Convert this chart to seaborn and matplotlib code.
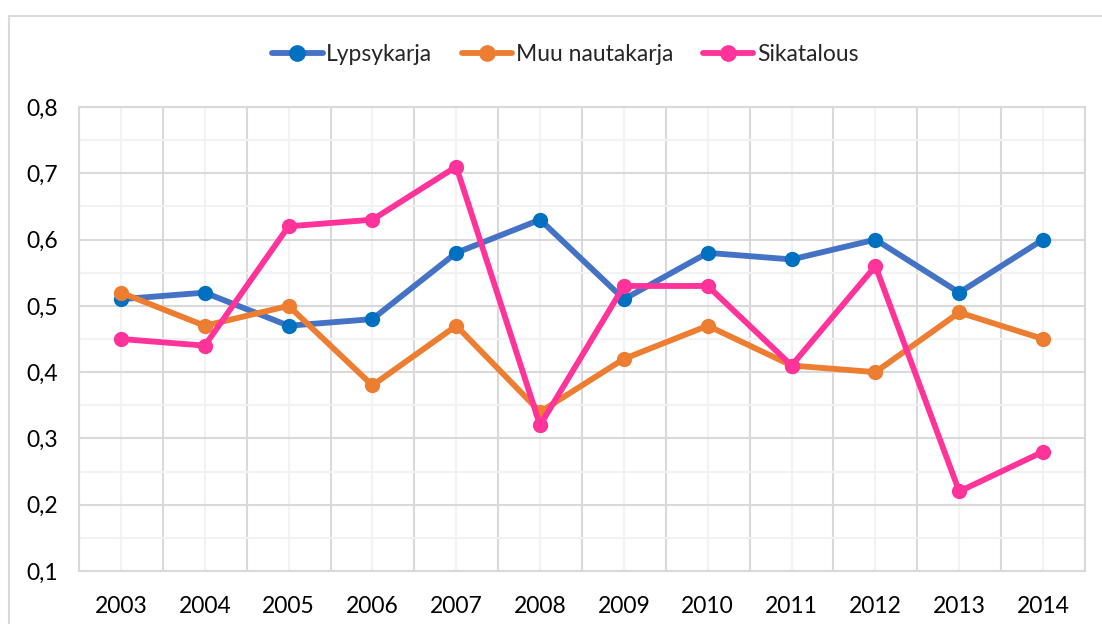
import seaborn as sns
import matplotlib.pyplot as plt
import matplotlib.ticker as mticker
import pandas as pd

# values
years = ['2003', '2004', '2005', '2006', '2007', '2008',
         '2009', '2010', '2011', '2012', '2013', '2014']
lypsykarja = [0.51, 0.52, 0.47, 0.48, 0.58, 0.63, 0.51, 0.58, 0.57, 0.60, 0.52, 0.60]
muu_nautakarja = [0.52, 0.47, 0.50, 0.38, 0.47, 0.34, 0.42, 0.47, 0.41, 0.40, 0.49, 0.45]
sikatalous = [0.45, 0.44, 0.62, 0.63, 0.71, 0.32, 0.53, 0.53, 0.41, 0.56, 0.22, 0.28]

series = ['Lypsykarja', 'Muu nautakarja', 'Sikatalous']
line_colors = ['#4472C4', '#ED7D31', '#FF3399']
marker_colors = ['#0070C0', '#ED7D31', '#FF3399']

rows = []
for name, vals in zip(series, [lypsykarja, muu_nautakarja, sikatalous]):
    for i, v in enumerate(vals):
        rows.append({'idx': i, 'value': v, 'series': name})
df = pd.DataFrame(rows)

sns.set_style('white')
plt.rcParams['font.family'] = ['Lato', 'DejaVu Sans']

fig = plt.figure(figsize=(11.02, 6.24), dpi=100)
ax = fig.add_axes([79 / 1102, 53 / 624, (1085 - 79) / 1102, (571 - 107) / 624])

sns.lineplot(data=df, x='idx', y='value', hue='series', hue_order=series,
             palette=line_colors, marker='o', markersize=11, linewidth=4.2,
             markeredgewidth=0, ax=ax, legend=False, zorder=3)

for line, mc in zip(ax.get_lines(), marker_colors):
    line.set_markerfacecolor(mc)
    line.set_markeredgecolor(mc)
    line.set_solid_capstyle('round')
    line.set_solid_joinstyle('round')

ax.set_xlim(-0.5, len(years) - 0.5)
ax.set_ylim(0.1, 0.8)
ax.set_xticks(range(len(years)))
ax.set_xticklabels(years)
ax.xaxis.set_minor_locator(mticker.FixedLocator([i - 0.5 for i in range(len(years) + 1)]))
ax.yaxis.set_major_locator(mticker.MultipleLocator(0.1))
ax.yaxis.set_minor_locator(mticker.MultipleLocator(0.05))
ax.yaxis.set_major_formatter(mticker.FuncFormatter(lambda v, p: f'{v:.1f}'.replace('.', ',')))

ax.grid(which='major', axis='y', color='#D9D9D9', linewidth=1.5)
ax.grid(which='minor', axis='y', color='#F2F2F2', linewidth=1.5)
ax.grid(which='minor', axis='x', color='#D9D9D9', linewidth=1.5)
ax.grid(which='major', axis='x', color='#F2F2F2', linewidth=1.5)
ax.set_axisbelow(True)

ax.tick_params(which='both', length=0, labelsize=16.5, colors='black')
ax.tick_params(axis='x', pad=18)
ax.tick_params(axis='y', pad=15)
ax.set_xlabel('')
ax.set_ylabel('')
for side in ['top', 'right', 'left', 'bottom']:
    ax.spines[side].set_visible(True)
    ax.spines[side].set_color('#D9D9D9')
    ax.spines[side].set_linewidth(1.5)

handles = [plt.Line2D([], [], color=lc, linewidth=4.2, marker='o', markersize=11,
                      markerfacecolor=mc, markeredgecolor=mc)
           for lc, mc in zip(line_colors, marker_colors)]
fig.legend(handles, series, loc='center', bbox_to_anchor=(0.513, 0.912), ncol=3,
           frameon=False, fontsize=16.5, handlelength=2.2, handletextpad=0.15,
           columnspacing=1.3)

# chart border
fig.patches.append(plt.Rectangle((9 / 1102, -0.1), 1.2, 1 - 16 / 624 + 0.1,
                                 transform=fig.transFigure, fill=False,
                                 edgecolor='#D9D9D9', linewidth=1.5))

plt.savefig('out.png', dpi=100)
plt.close()
